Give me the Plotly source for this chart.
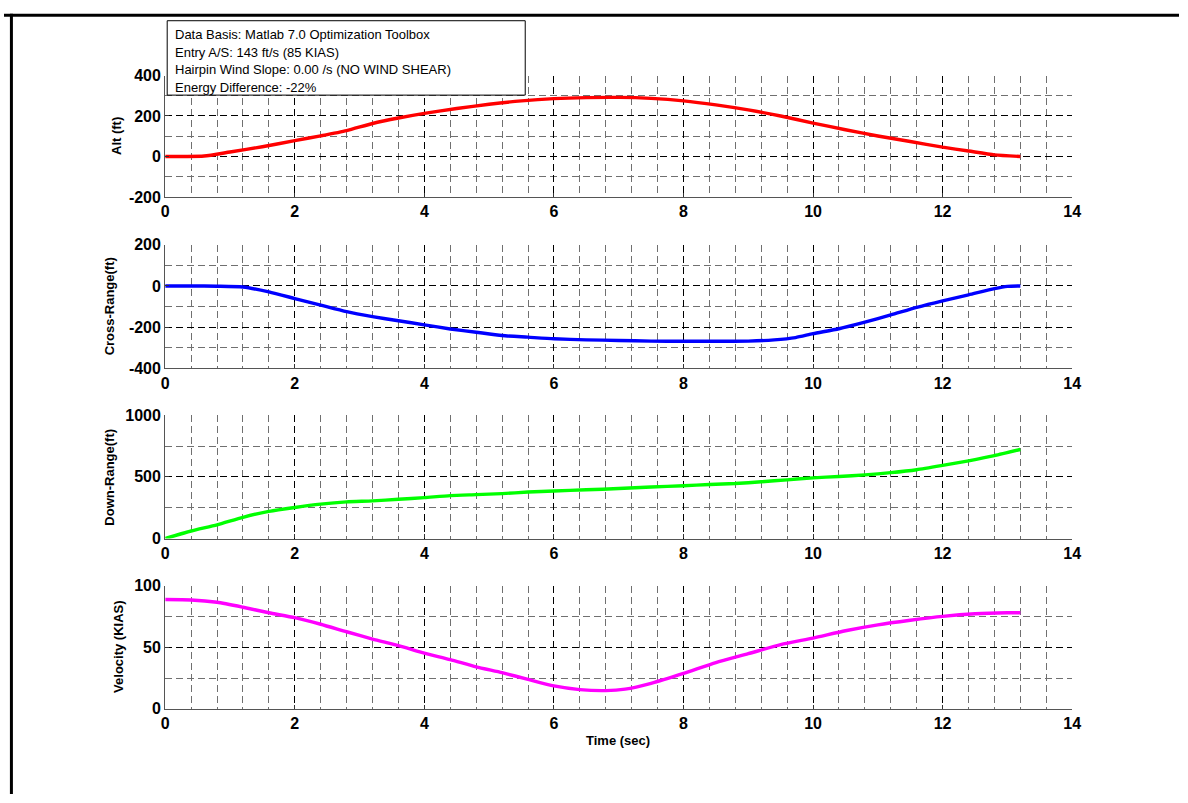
import plotly.graph_objects as go

# ---------------- data ----------------
t_alt = [0, 0.3, 0.6, 1.0, 1.5, 2.0, 2.4, 2.8, 3.2, 3.6, 4.0, 4.5, 5.0, 5.5, 6.0, 6.5,
         7.0, 7.5, 8.0, 8.5, 9.0, 9.5, 10.0, 10.5, 11.0, 11.5, 12.0, 12.4, 12.8, 13.2]
alt = [0, 0, 2, 22, 48, 78, 102, 128, 163, 190, 213, 237, 258, 275, 286, 291,
       292, 287, 275, 255, 230, 200, 165, 132, 101, 74, 46, 27, 8, 0]

t_cr = [0, 0.4, 0.8, 1.2, 1.6, 2.0, 2.4, 2.8, 3.2, 3.6, 4.0, 4.4, 4.8, 5.2, 5.6, 6.0,
        6.5, 7.0, 7.5, 8.0, 8.5, 9.0, 9.4, 9.73, 10.0, 10.4, 10.8, 11.2, 11.6, 12.0,
        12.4, 12.8, 13.0, 13.2]
cross = [0, 0, -1, -5, -29, -61, -93, -125, -149, -169, -189, -209, -225, -241, -249, -257,
         -262, -265, -268, -269, -269, -268, -262, -251, -232, -208, -176, -141, -104, -72,
         -43, -13, -2, 0]

t_dr = [0, 0.4, 0.8, 1.2, 1.6, 2.0, 2.4, 2.8, 3.2, 3.6, 4.0, 4.4, 4.8, 5.2, 5.6, 6.0,
        6.5, 7.0, 7.5, 8.0, 8.4, 8.8, 9.2, 9.6, 10.0, 10.4, 10.8, 11.2, 11.6, 12.0,
        12.4, 12.8, 13.2]
down = [0, 61, 111, 172, 220, 252, 279, 297, 305, 318, 332, 348, 356, 364, 377, 385,
        395, 405, 418, 428, 438, 446, 460, 476, 492, 503, 516, 534, 558, 593,
        630, 672, 722]

t_v = [0, 0.4, 0.8, 1.2, 1.6, 2.0, 2.4, 2.8, 3.2, 3.6, 4.0, 4.4, 4.8, 5.2, 5.6, 6.0,
       6.4, 6.8, 7.1, 7.5, 8.0, 8.5, 9.0, 9.5, 10.0, 10.5, 11.0, 11.5, 12.0, 12.5, 13.0, 13.2]
vel = [88.6, 88.3, 86.4, 82.4, 77.9, 73.9, 68.6, 62.5, 56.6, 51.3, 45.2, 39.9, 34.0, 29.3, 23.9, 18.6,
       15.6, 14.8, 16.0, 20.7, 28.7, 37.5, 44.7, 52.1, 57.4, 63.3, 68.1, 71.8, 75.0, 77.1, 77.9, 77.9]

x_ticks = [0, 2, 4, 6, 8, 10, 12, 14]
x_ticklabels = ["0", "2", "4", "6", "8", "10", "12", "14"]
y_tickvals = [[-200, 0, 200, 400], [-400, -200, 0, 200], [0, 500, 1000], [0, 50, 100]]
y_ticklabels = [["-200", "0", "200", "400"], ["-400", "-200", "0", "200"],
                ["0", "500", "1000"], ["0", "50", "100"]]
y_titles = ["Alt (ft)", "Cross-Range(ft)", "Down-Range(ft)", "Velocity (KIAS)"]
y_ranges = [[-200, 400], [-400, 200], [0, 1000], [0, 100]]
y_minor = [100, 100, 250, 25]
x_title = "Time (sec)"
info_lines = [
    "Data Basis: Matlab 7.0 Optimization Toolbox",
    "Entry A/S: 143 ft/s (85 KIAS)",
    "Hairpin Wind Slope: 0.00 /s (NO WIND SHEAR)",
    "Energy Difference: -22%",
]

# ---------------- layout ----------------
W, H = 1188, 803


def px(xp):
    return xp / W


def py(yp):
    return 1 - yp / H


xdom = [px(163), px(1080)]
ypix = [(69, 193), (242, 368), (416, 542), (590, 716)]
ydoms = [[py(b), py(t)] for t, b in ypix]
title_x = [113, 107, 107, 115]

series = [(t_alt, alt, "#FF0000"), (t_cr, cross, "#0000FF"),
          (t_dr, down, "#00FF00"), (t_v, vel, "#FF00FF")]

fig = go.Figure()
FONT = "Liberation Sans, Arial, sans-serif"
tickfont = dict(family=FONT, size=16, color="black", weight="bold")
DASH = "7px,4px"

for i, (tx, ty, col) in enumerate(series):
    n = "" if i == 0 else str(i + 1)
    fig.add_trace(go.Scatter(x=tx, y=ty, mode="lines",
                             line=dict(color=col, width=3.4, shape="spline",
                                       smoothing=0.6),
                             xaxis="x" + n, yaxis="y" + n, showlegend=False,
                             hoverinfo="skip"))
    common = dict(showline=True, linecolor="#555555", linewidth=1.2,
                  ticks="inside", ticklen=4, tickcolor="#333333",
                  showgrid=True, gridcolor="black", gridwidth=1.3, griddash=DASH,
                  zeroline=False, tickfont=tickfont)
    fig.layout["xaxis" + n] = dict(
        domain=xdom, anchor="y" + n, range=[0, 14],
        tickmode="array", tickvals=x_ticks, ticktext=x_ticklabels,
        minor=dict(dtick=0.4, tick0=0, showgrid=True, gridcolor="#707070",
                   gridwidth=1, griddash=DASH),
        **common)
    fig.layout["yaxis" + n] = dict(
        domain=ydoms[i], anchor="x" + n, range=y_ranges[i],
        tickmode="array", tickvals=y_tickvals[i], ticktext=y_ticklabels[i],
        minor=dict(dtick=y_minor[i], tick0=0, showgrid=True, gridcolor="#707070",
                   gridwidth=1, griddash=DASH),
        **common)
    yc = (ypix[i][0] + ypix[i][1]) / 2
    fig.add_annotation(text=y_titles[i], xref="paper", yref="paper",
                       x=px(title_x[i]), y=py(yc), textangle=-90,
                       showarrow=False, xanchor="center", yanchor="middle",
                       font=dict(family=FONT, size=13, color="black", weight="bold"))

fig.add_annotation(text=x_title, xref="paper", yref="paper",
                   x=px(621), y=py(748), showarrow=False,
                   xanchor="center", yanchor="middle",
                   font=dict(family=FONT, size=13, color="black", weight="bold"))

shapes = [
    dict(type="rect", xref="paper", yref="paper",
         x0=px(165), x1=px(527), y0=py(89), y1=py(13),
         line=dict(color="black", width=1), fillcolor="white", layer="above"),
    dict(type="line", xref="paper", yref="paper", x0=0, x1=1,
         y0=py(7.5), y1=py(7.5), line=dict(color="black", width=3)),
    dict(type="line", xref="paper", yref="paper", x0=px(7.5), x1=px(7.5),
         y0=0, y1=py(6), line=dict(color="black", width=3)),
]
line_y = [27, 45, 63, 81]
for txt, yy in zip(info_lines, line_y):
    fig.add_annotation(text=txt, xref="paper", yref="paper",
                       x=px(171), y=py(yy), showarrow=False,
                       xanchor="left", yanchor="middle",
                       font=dict(family=FONT, size=13, color="black"))

fig.update_layout(width=W, height=H, margin=dict(l=0, r=0, t=0, b=0),
                  paper_bgcolor="white", plot_bgcolor="white", shapes=shapes,
                  hovermode=False)

fig.write_html("out.html", config={"displayModeBar": False},
               post_script="document.body.style.margin='0';"
                           "document.body.style.overflow='hidden';")
